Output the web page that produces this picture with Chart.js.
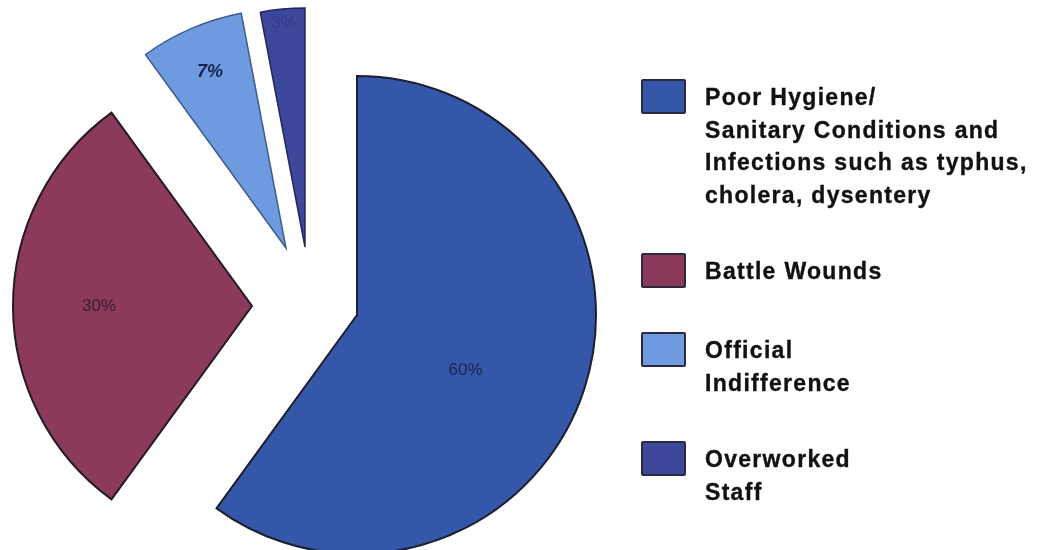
<!DOCTYPE html>
<html>
<head>
<meta charset="utf-8">
<script src="https://cdn.jsdelivr.net/npm/chart.js@4/dist/chart.umd.min.js"></script>
<style>
  html, body { margin: 0; padding: 0; background: #fff; }
  #wrap { position: relative; width: 1037px; height: 550px; overflow: hidden; }
  #wrap canvas { position: absolute; left: 0; top: 0; }
  #legend { position: absolute; left: 641px; top: 79px; font-family: "Liberation Sans", Arial, sans-serif;
            font-weight: bold; font-size: 23px; line-height: 32.5px; letter-spacing: 1.3px; color: #111;
            -webkit-text-stroke: 0.35px #111; }
  .item { position: relative; padding-left: 64px; margin-bottom: 44px; min-height: 35px; }
  .box { position: absolute; left: 0; top: 0; width: 45px; height: 35px; box-sizing: border-box;
         border: 2px solid #2a2a3a; border-radius: 2px; }
  .txt { position: relative; top: 2px; white-space: nowrap; }
</style>
</head>
<body>
<div id="wrap">
  <canvas id="pie" width="1037" height="550"></canvas>
  <div id="legend"></div>
</div>
<script>
// data
var categories = [
  ['Poor Hygiene/', 'Sanitary Conditions and', 'Infections such as typhus,', 'cholera, dysentery'],
  ['Battle Wounds'],
  ['Official', 'Indifference'],
  ['Overworked', 'Staff']
];
var values = [60, 30, 7, 3];

// look
var fills = ['#3457a9', '#8c3a5c', '#6e9be0', '#3d479c'];
var borders = ['#1d1f2e', '#241a22', '#3f5a8c', '#22285a'];
var borderWidths = [2, 2, 1.5, 1.5];
var sliceShift = [[0, 0], [-105, -9], [-71, -67], [-52, -68]];   // exploded pieces
var labelPos = [0.51, 0.64, 0.8, 0.94];
var labelTurn = [9, 0, 0, 0];   // degrees
var labelColors = ['rgba(22,30,62,0.85)', 'rgba(45,25,40,0.85)', '#1a2150', 'rgba(50,62,130,0.9)'];
var labelFonts = ['17px "Liberation Sans"', '17px "Liberation Sans"', 'italic bold 18px "Liberation Sans"', '17px "Liberation Sans"'];

var explode = {
  id: 'explode',
  afterDatasetUpdate: function(chart, args) {
    var arcs = chart.getDatasetMeta(args.index).data;
    for (var i = 0; i < arcs.length; i++) {
      arcs[i].x += sliceShift[i][0];
      arcs[i].y += sliceShift[i][1];
    }
  }
};

var pctLabels = {
  id: 'pctLabels',
  afterDatasetsDraw: function(chart) {
    var ctx = chart.ctx;
    var arcs = chart.getDatasetMeta(0).data;
    ctx.save();
    ctx.textAlign = 'center';
    ctx.textBaseline = 'middle';
    for (var i = 0; i < arcs.length; i++) {
      var a = arcs[i];
      var mid = (a.startAngle + a.endAngle) / 2 + labelTurn[i] * Math.PI / 180;
      var r = a.outerRadius * labelPos[i];
      ctx.font = labelFonts[i];
      ctx.fillStyle = labelColors[i];
      ctx.fillText(values[i] + '%', a.x + Math.cos(mid) * r, a.y + Math.sin(mid) * r);
    }
    ctx.restore();
  }
};

new Chart(document.getElementById('pie'), {
  type: 'pie',
  data: {
    labels: categories,
    datasets: [{
      data: values,
      backgroundColor: fills,
      borderColor: borders,
      borderWidth: borderWidths,
      borderJoinStyle: 'miter'
    }]
  },
  options: {
    responsive: false,
    animation: false,
    events: [],
    radius: 239,
    layout: { padding: { left: 0, right: 323, top: 80, bottom: 0 } },
    plugins: {
      legend: { display: false },
      tooltip: { enabled: false }
    }
  },
  plugins: [explode, pctLabels]
});

// legend
var legend = document.getElementById('legend');
for (var i = 0; i < categories.length; i++) {
  var item = document.createElement('div');
  item.className = 'item';
  var box = document.createElement('div');
  box.className = 'box';
  box.style.background = fills[i];
  var txt = document.createElement('div');
  txt.className = 'txt';
  txt.innerHTML = categories[i].join('<br>');
  item.appendChild(box);
  item.appendChild(txt);
  legend.appendChild(item);
}
</script>
</body>
</html>
